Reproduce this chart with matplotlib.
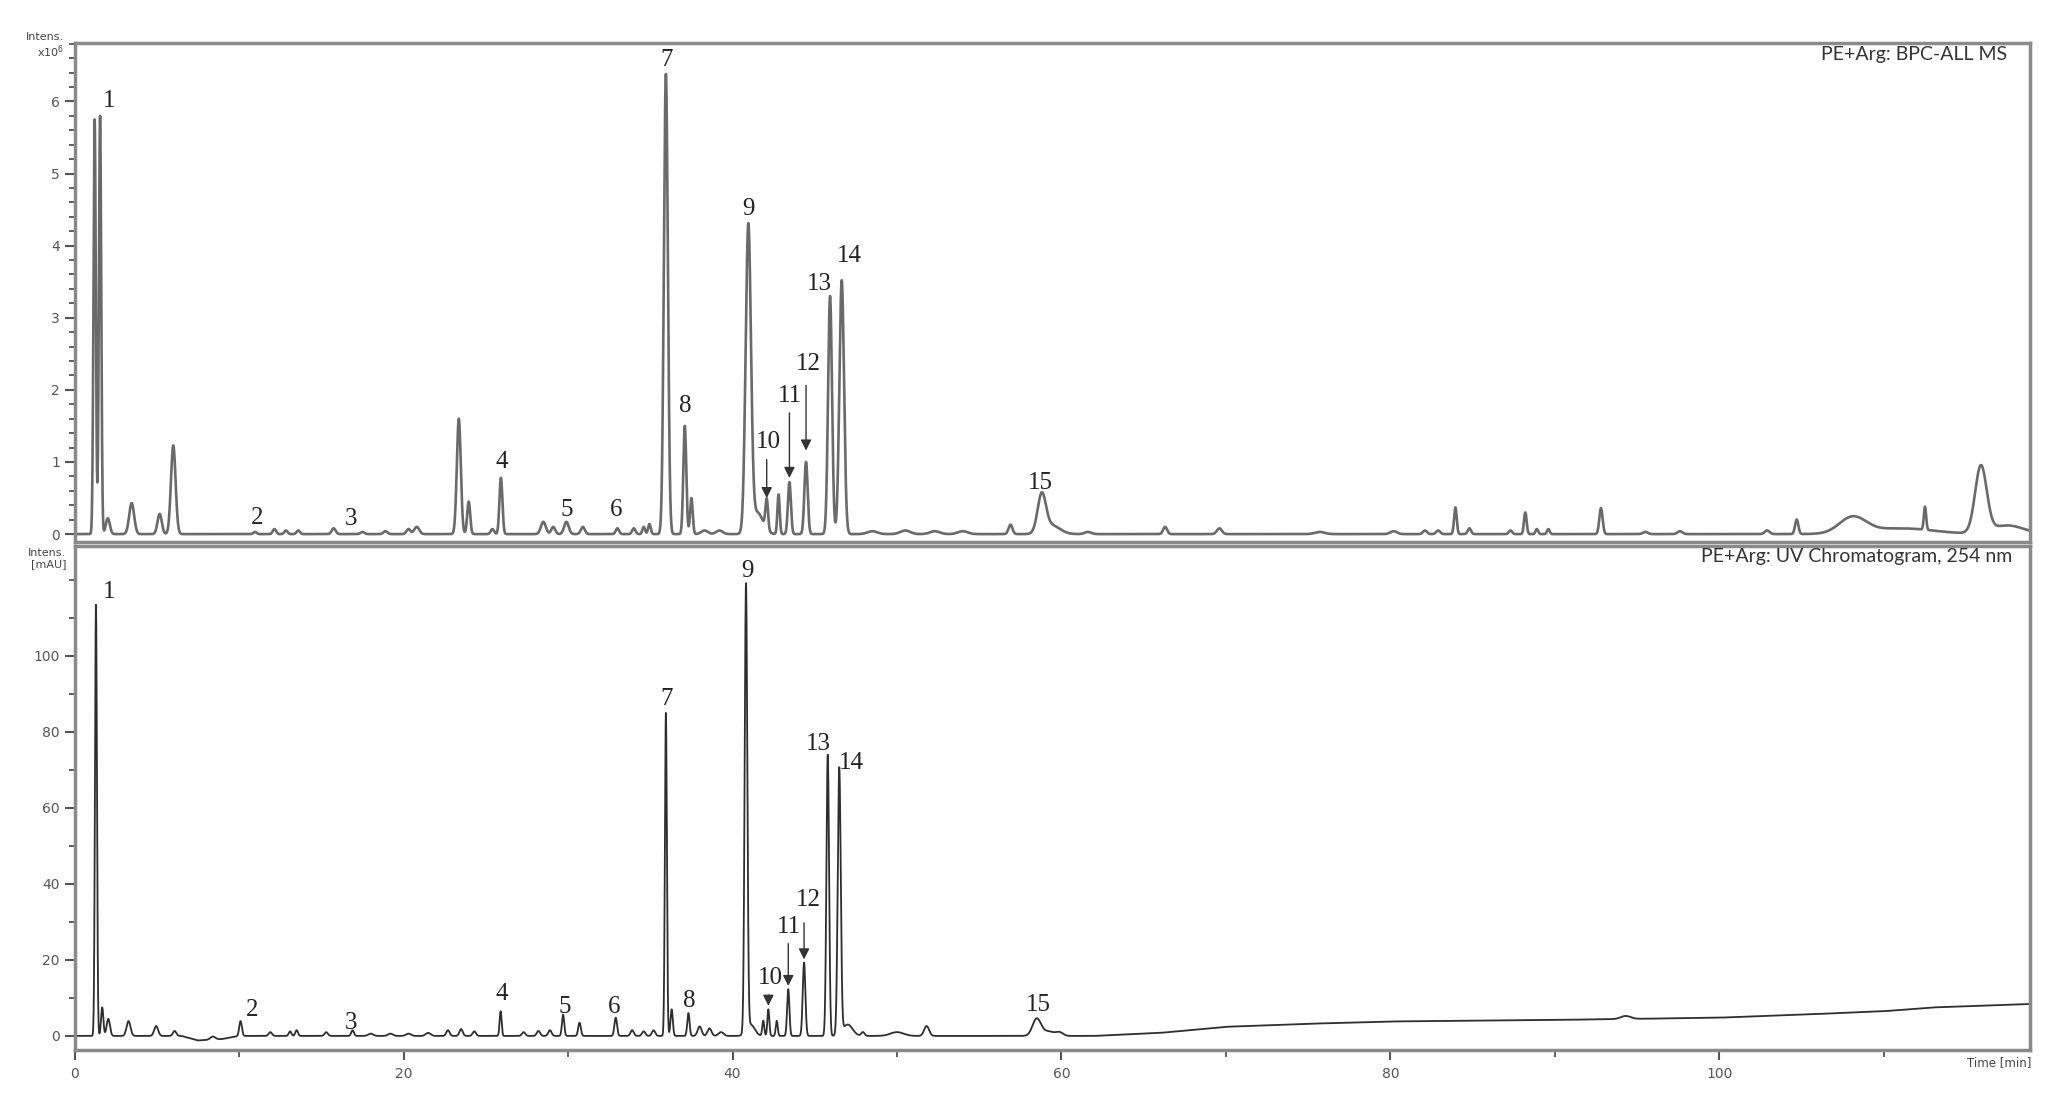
import numpy as np
import matplotlib
matplotlib.use("Agg")
import matplotlib.pyplot as plt

# ---- MS (BPC) peak table: retention time [min], height [x10^6], width (sigma, min)
ms_rt = [1.22, 1.55, 2.02, 3.47, 5.17, 6.0, 10.97, 12.15, 12.85, 13.6, 15.75, 17.5, 18.9, 20.3, 20.8,
         23.36, 23.96, 25.4, 25.92, 28.5, 29.1, 29.9, 30.9, 33.0, 34.0, 34.6, 34.95,
         35.95, 37.1, 37.5, 38.3, 39.2, 40.96, 41.5, 42.08, 42.8, 43.46, 44.47, 45.93, 46.64,
         48.5, 50.5, 52.3, 54.0, 56.9, 58.8, 59.4, 61.6, 66.3, 69.6, 75.7, 80.2, 82.1, 82.9, 83.95,
         84.8, 87.3, 88.2, 88.9, 89.6, 92.8, 95.5, 97.6, 102.9, 104.7, 108.1, 111.0, 112.5, 115.9, 117.5]
ms_height = [5.75, 5.8, 0.22, 0.43, 0.28, 1.23, 0.03, 0.07, 0.05, 0.05, 0.08, 0.03, 0.04, 0.07, 0.1,
             1.6, 0.45, 0.07, 0.78, 0.17, 0.1, 0.17, 0.1, 0.08, 0.08, 0.1, 0.14,
             6.38, 1.5, 0.5, 0.05, 0.05, 4.22, 0.3, 0.42, 0.55, 0.72, 1.0, 3.3, 3.52,
             0.04, 0.05, 0.04, 0.04, 0.13, 0.52, 0.12, 0.03, 0.1, 0.08, 0.03, 0.04, 0.05, 0.05, 0.37,
             0.08, 0.05, 0.3, 0.07, 0.07, 0.36, 0.03, 0.04, 0.05, 0.2, 0.22, 0.08, 0.32, 0.92, 0.12]
ms_width = [0.07, 0.07, 0.12, 0.15, 0.13, 0.14, 0.1, 0.1, 0.1, 0.1, 0.12, 0.12, 0.12, 0.12, 0.15,
            0.12, 0.09, 0.1, 0.09, 0.15, 0.12, 0.14, 0.12, 0.1, 0.1, 0.08, 0.08,
            0.12, 0.09, 0.08, 0.2, 0.2, 0.16, 0.35, 0.08, 0.07, 0.09, 0.1, 0.12, 0.14,
            0.3, 0.3, 0.3, 0.3, 0.12, 0.25, 0.5, 0.2, 0.12, 0.15, 0.3, 0.2, 0.12, 0.12, 0.08,
            0.1, 0.1, 0.08, 0.08, 0.08, 0.1, 0.15, 0.15, 0.15, 0.1, 0.8, 2.0, 0.07, 0.35, 1.0]

# ---- UV 254 nm peak table: retention time [min], height [mAU], width (sigma, min)
uv_rt = [1.3, 1.68, 2.05, 3.28, 4.96, 6.08, 8.4, 10.09, 11.9, 13.1, 13.5, 15.3, 16.9,
         18.0, 19.2, 20.3, 21.5, 22.7, 23.5, 24.3, 25.9, 27.3, 28.2, 28.9, 29.7, 30.7, 32.9,
         33.9, 34.6, 35.2, 35.95, 36.3, 37.32, 38.0, 38.6, 39.3, 40.82, 41.1, 41.87, 42.18, 42.69,
         43.39, 44.35, 45.79, 46.49, 47.0, 47.93, 50.0, 51.8, 58.49, 59.2, 59.9, 94.3]
uv_height = [113.5, 7.5, 4.5, 3.9, 2.6, 1.3, 0.8, 3.9, 1.0, 1.2, 1.5, 1.0, 1.5,
             0.6, 0.6, 0.6, 0.8, 1.5, 1.8, 1.2, 6.5, 1.0, 1.3, 1.5, 5.6, 3.5, 4.8,
             1.5, 1.2, 1.5, 85.0, 7.0, 6.0, 2.5, 2.0, 1.0, 117.5, 3.0, 4.0, 7.0, 4.0,
             12.3, 19.3, 74.0, 70.0, 3.0, 1.0, 1.0, 2.6, 4.4, 1.2, 0.8, 0.8]
uv_width = [0.06, 0.07, 0.1, 0.12, 0.12, 0.1, 0.15, 0.08, 0.1, 0.08, 0.08, 0.1, 0.08,
            0.15, 0.15, 0.15, 0.15, 0.1, 0.1, 0.1, 0.06, 0.1, 0.1, 0.1, 0.07, 0.08, 0.08,
            0.1, 0.1, 0.1, 0.06, 0.07, 0.07, 0.12, 0.12, 0.15, 0.08, 0.25, 0.06, 0.06, 0.06,
            0.07, 0.08, 0.08, 0.09, 0.3, 0.1, 0.4, 0.15, 0.25, 0.4, 0.2, 0.3]
# UV baseline drift read at a few retention times
uv_base_rt = [0, 6.5, 7.5, 9.0, 10.0, 62, 66, 70, 75, 80, 90, 100, 105, 110, 113, 118.9]
uv_base_val = [0, 0, -1.2, -0.8, 0, 0, 0.8, 2.4, 3.2, 3.8, 4.2, 4.8, 5.6, 6.5, 7.5, 8.4]

# ---- peak numbers and where they are written (rt, y of label bottom)
labels = ["1", "2", "3", "4", "5", "6", "7", "8", "9", "10", "11", "12", "13", "14", "15"]
ms_lab_rt = [2.1, 11.1, 16.8, 26.0, 29.9, 32.9, 36.0, 37.1, 40.95, 42.2, 43.5, 44.6, 45.3, 47.1, 58.7]
ms_lab_y = [5.85, 0.07, 0.05, 0.85, 0.18, 0.18, 6.42, 1.62, 4.35, 1.13, 1.76, 2.21, 3.31, 3.71, 0.56]
uv_lab_rt = [2.1, 10.8, 16.8, 26.0, 29.8, 32.8, 36.0, 37.4, 40.9, 42.3, 43.4, 44.6, 45.2, 47.2, 58.6]
uv_lab_y = [113.8, 4.0, 0.5, 8.2, 4.6, 4.6, 85.8, 6.2, 119.3, 12.3, 25.8, 32.8, 73.8, 68.8, 5.2]
# arrows for peaks 10-12: rt, arrow start, arrow tip
ms_arrow_rt = [42.08, 43.46, 44.47]
ms_arrow_from = [1.07, 1.72, 2.1]
ms_arrow_to = [0.46, 0.74, 1.12]
uv_arrow_rt = [42.18, 43.39, 44.35]
uv_arrow_from = [11.5, 25.0, 30.5]
uv_arrow_to = [7.2, 12.4, 19.4]

t_max = 118.9
t = np.linspace(0, t_max, 20000)


def trace(rt, h, w, base=None):
    y = np.zeros_like(t) if base is None else base.copy()
    for r, a, s in zip(rt, h, w):
        y += a * np.exp(-0.5 * ((t - r) / s) ** 2)
    return y


ms = trace(ms_rt, ms_height, ms_width)
uv = trace(uv_rt, uv_height, uv_width, np.interp(t, uv_base_rt, uv_base_val))

frame = "#8a8a8a"
tick_col = "#555555"
serif = "Liberation Serif"

fig = plt.figure(figsize=(20.66, 10.99), dpi=100)
ax1 = fig.add_axes([0.0361, 0.5068, 0.9466, 0.4541])
ax2 = fig.add_axes([0.0361, 0.0446, 0.9466, 0.4586])

ax1.plot(t, ms, color="#6a6a6a", lw=1.9)
ax2.plot(t, uv, color="#2e2e2e", lw=1.3)

ax1.set_xlim(0, t_max)
ax2.set_xlim(0, t_max)
ax1.set_ylim(-0.11, 6.81)
ax2.set_ylim(-3.7, 128.9)

for ax in (ax1, ax2):
    for s in ax.spines.values():
        s.set_color(frame)
        s.set_linewidth(2.5)
    ax.tick_params(axis="y", direction="out", length=7, width=1.5, color=tick_col,
                   labelsize=10, labelcolor=tick_col)
    ax.tick_params(axis="y", which="minor", length=4, width=1.3, color=tick_col)

ax1.set_yticks(range(0, 7))
ax1.set_yticks(np.arange(0, 6.81, 0.2), minor=True)
ax1.tick_params(axis="x", bottom=False, labelbottom=False)

ax2.set_yticks([0, 20, 40, 60, 80, 100])
ax2.set_yticks(np.arange(0, 121, 10), minor=True)
ax2.set_xticks([0, 20, 40, 60, 80, 100])
ax2.set_xticks(np.arange(10, 111, 20), minor=True)
ax2.tick_params(axis="x", direction="out", length=7, width=1.5, color=tick_col,
                labelsize=10, labelcolor=tick_col, pad=5)
ax2.tick_params(axis="x", which="minor", length=5, width=1.3, color=tick_col)

for lab, x, y in zip(labels, ms_lab_rt, ms_lab_y):
    ax1.text(x, y, lab, family=serif, fontsize=18, color="#222222", ha="center", va="bottom")
for lab, x, y in zip(labels, uv_lab_rt, uv_lab_y):
    ax2.text(x, y, lab, family=serif, fontsize=18, color="#222222", ha="center", va="bottom")

for x, y0, y1 in zip(ms_arrow_rt, ms_arrow_from, ms_arrow_to):
    ax1.annotate("", xy=(x, y1), xytext=(x, y0),
                 arrowprops=dict(arrowstyle="-|>", color="#333333", lw=1.0, mutation_scale=16))
for x, y0, y1 in zip(uv_arrow_rt, uv_arrow_from, uv_arrow_to):
    ax2.annotate("", xy=(x, y1), xytext=(x, y0),
                 arrowprops=dict(arrowstyle="-|>", color="#333333", lw=1.0, mutation_scale=16))

fig.text(0.9714, 0.950, "PE+Arg: BPC-ALL MS", ha="right", va="center",
         fontsize=14, color="#333333", family="Lato")
fig.text(0.9740, 0.4932, "PE+Arg: UV Chromatogram, 254 nm", ha="right", va="center",
         fontsize=14, color="#333333", family="Lato")
fig.text(0.031, 0.958, "Intens.\nx10$^6$", ha="right", va="center", fontsize=8,
         color="#444444", linespacing=1.1)
fig.text(0.032, 0.492, "Intens.\n[mAU]", ha="right", va="center", fontsize=8,
         color="#444444", linespacing=1.1)
fig.text(0.9675, 0.0330, "Time [min]", ha="center", va="center", fontsize=8.5,
         color="#444444")

fig.savefig("out.png", dpi=100)
